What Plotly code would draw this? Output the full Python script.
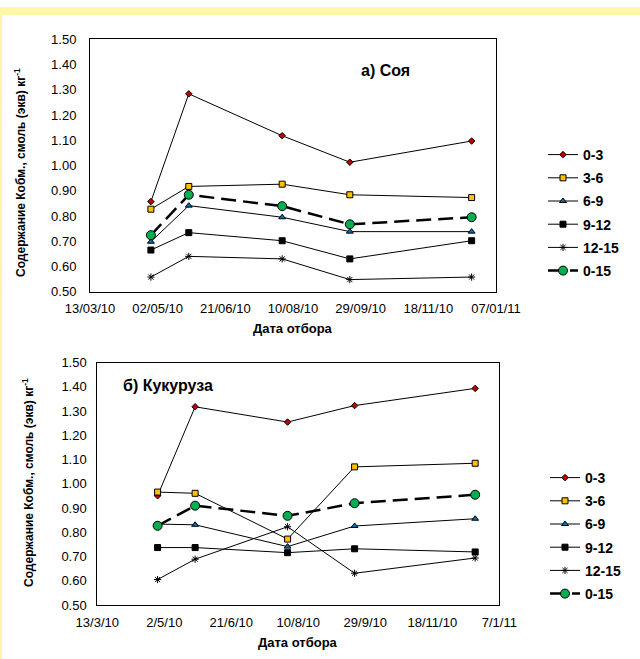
import plotly.graph_objects as go

W, H = 640, 659

dates = ["2010-04-27", "2010-05-25", "2010-08-02", "2010-09-21", "2010-12-20"]
series_names = ["0-3", "3-6", "6-9", "9-12", "12-15", "0-15"]

soy_0_3 = [0.857, 1.284, 1.118, 1.013, 1.097]
soy_3_6 = [0.827, 0.917, 0.926, 0.884, 0.873]
soy_6_9 = [0.698, 0.841, 0.795, 0.738, 0.738]
soy_9_12 = [0.665, 0.734, 0.702, 0.630, 0.702]
soy_12_15 = [0.558, 0.640, 0.630, 0.548, 0.558]
soy_0_15 = [0.724, 0.884, 0.839, 0.767, 0.795]

corn_0_3 = [0.951, 1.318, 1.255, 1.323, 1.394]
corn_3_6 = [0.966, 0.961, 0.772, 1.070, 1.085]
corn_6_9 = [0.834, 0.831, 0.741, 0.826, 0.856]
corn_9_12 = [0.737, 0.737, 0.716, 0.732, 0.719]
corn_12_15 = [0.605, 0.689, 0.823, 0.631, 0.694]
corn_0_15 = [0.827, 0.910, 0.868, 0.920, 0.955]

soy = [soy_0_3, soy_3_6, soy_6_9, soy_9_12, soy_12_15, soy_0_15]
corn = [corn_0_3, corn_3_6, corn_6_9, corn_9_12, corn_12_15, corn_0_15]

styles = [
    dict(symbol="diamond", size=5, color="#C00000", lw=1, dash="solid"),
    dict(symbol="square", size=6, color="#FFC000", lw=1, dash="solid"),
    dict(symbol="triangle-up", size=6, color="#0070C0", lw=1, dash="solid"),
    dict(symbol="square", size=6, color="#000000", lw=1, dash="solid"),
    dict(symbol="asterisk-open", size=6, color="#000000", lw=1, dash="solid"),
    dict(symbol="circle", size=9, color="#00B050", lw=2.5, dash="15px,7px"),
]

FONT = "Arial, Liberation Sans, sans-serif"

fig = go.Figure()

for panel, data in ((1, soy), (2, corn)):
    for name, vals, st in zip(series_names, data, styles):
        marker = dict(symbol=st["symbol"], size=st["size"], color=st["color"],
                      line=dict(color="black", width=1))
        fig.add_trace(go.Scatter(
            x=dates, y=vals, name=name, mode="lines+markers",
            line=dict(color="black", width=st["lw"], dash=st["dash"]),
            marker=marker,
            xaxis="x" if panel == 1 else "x2",
            yaxis="y" if panel == 1 else "y2",
            legend="legend" if panel == 1 else "legend2",
            legendgroup=f"{panel}-{name}",
        ))

def px(x):
    return x / W

def py(y):
    return 1 - y / H

xcommon = dict(type="date", range=["2010-03-13", "2011-01-07"], tick0="2010-03-13",
               dtick=50 * 86400000, showline=True, linecolor="black", linewidth=1,
               mirror=True, showgrid=False, zeroline=False, ticks="outside",
               ticklen=5, tickcolor="rgba(0,0,0,0)", automargin=False,
               tickfont=dict(family=FONT, size=13, color="black"))
ycommon = dict(range=[0.5, 1.5], dtick=0.1, tick0=0.5, tickformat=".2f",
               showline=True, linecolor="black", linewidth=1, mirror=True,
               showgrid=False, zeroline=False, ticks="outside",
               tickcolor="rgba(0,0,0,0)", automargin=False,
               tickfont=dict(family=FONT, size=13, color="black"))

legcommon = dict(font=dict(family=FONT, size=14, color="black", weight="bold"),
                 bgcolor="rgba(0,0,0,0)", tracegroupgap=2,
                 xanchor="left", yanchor="top")

fig.update_layout(
    template="none",
    width=W, height=H,
    margin=dict(l=0, r=0, t=0, b=0, autoexpand=False),
    paper_bgcolor="white", plot_bgcolor="white",
    xaxis=dict(domain=[px(90), px(496)], anchor="y", tickformat="%d/%m/%y", **xcommon),
    yaxis=dict(domain=[py(291.7), py(39.3)], anchor="x", ticklen=10, **ycommon),
    xaxis2=dict(domain=[px(97.3), px(499.3)], anchor="y2", tickformat="%-d/%-m/%y", **xcommon),
    yaxis2=dict(domain=[py(605), py(362.7)], anchor="x2", ticklen=7, **ycommon),
    legend=dict(x=px(543), y=py(139), **legcommon),
    legend2=dict(x=px(545), y=py(462), **legcommon),
    showlegend=True,
)

ytitle = "Содержание Кобм., смоль (экв) кг<sup>-1</sup>"
ann_font = dict(family=FONT, size=12, color="black", weight="bold")
annotations = [
    dict(text=ytitle, x=px(20), y=py(173), textangle=-90, font=ann_font),
    dict(text=ytitle, x=px(28), y=py(483), textangle=-90, font=ann_font),
    dict(text="Дата отбора", x=px(293), y=py(328), font=dict(family=FONT, size=13, color="black", weight="bold")),
    dict(text="Дата отбора", x=px(298), y=py(642), font=dict(family=FONT, size=13, color="black", weight="bold")),
    dict(text="а) Соя", x=px(385), y=py(70), font=dict(family=FONT, size=16, color="black", weight="bold")),
    dict(text="б) Кукуруза", x=px(168), y=py(385), font=dict(family=FONT, size=16, color="black", weight="bold")),
]
for a in annotations:
    a.update(xref="paper", yref="paper", showarrow=False, xanchor="center", yanchor="middle")
fig.update_layout(annotations=annotations)

fig.update_layout(shapes=[
    dict(type="rect", xref="paper", yref="paper", x0=0, x1=1, y0=py(15), y1=py(7),
         fillcolor="#FFF7A6", line=dict(width=0), layer="below"),
    dict(type="rect", xref="paper", yref="paper", x0=0, x1=px(2), y0=0, y1=py(15),
         fillcolor="#FFF7A6", line=dict(width=0), layer="below"),
])

fig.write_html("out.html")
